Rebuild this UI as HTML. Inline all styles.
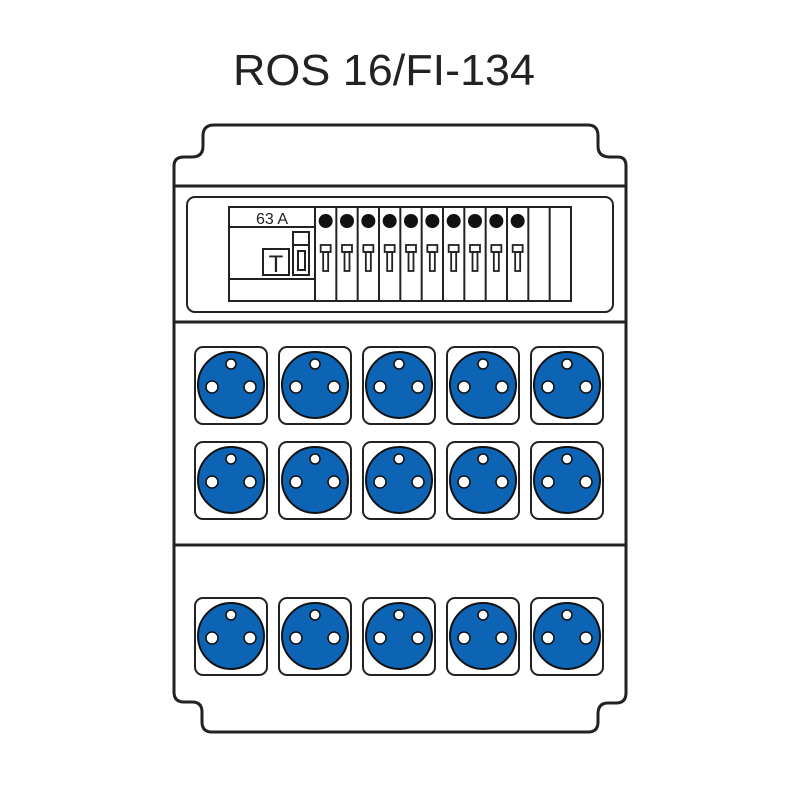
<!DOCTYPE html>
<html><head><meta charset="utf-8"><style>
html,body{margin:0;padding:0;background:#fff;}
svg{display:block;}
</style></head><body>
<svg id="s" width="800" height="800" viewBox="0 0 800 800" xmlns="http://www.w3.org/2000/svg">
<rect width="800" height="800" fill="#fff"/>
<text x="384" y="85" font-family="Liberation Sans, sans-serif" font-size="44" text-anchor="middle" fill="#222" textLength="302" lengthAdjust="spacingAndGlyphs">ROS 16/FI-134</text>
<path d="M214,125 L588,125 Q598,125 598,136 L598,146 Q598,157 610,157 L618,157 Q626,157 626,166 L626,693 Q626,703 616,703 L608,703 Q598,703 598,714 L598,722 Q598,732 588,732 L212,732 Q202,732 202,722 L202,712 Q202,702 192,702 L184,702 Q174,702 174,692 L174,166 Q174,157 184,157 L192,157 Q203,157 203,146 L203,136 Q203,125 214,125 Z" fill="none" stroke="#222" stroke-width="3"/>
<line x1="174" y1="186" x2="626" y2="186" stroke="#222" stroke-width="3"/>
<line x1="174" y1="322" x2="626" y2="322" stroke="#222" stroke-width="3"/>
<line x1="174" y1="545" x2="626" y2="545" stroke="#222" stroke-width="3"/>
<rect x="187" y="197" width="426" height="115" rx="8" fill="none" stroke="#222" stroke-width="2"/>
<g stroke="#222" fill="none" stroke-width="2">
<rect x="229" y="207" width="342" height="94"/>
<line x1="229" y1="227" x2="315" y2="227"/>
<line x1="229" y1="279" x2="315" y2="279"/>
<rect x="263" y="249" width="26" height="26"/>
<rect x="293" y="232" width="16" height="43"/>
<line x1="293" y1="245" x2="309" y2="245"/>
<rect x="298" y="251" width="7" height="19"/>
</g>
<text x="272" y="224" font-family="Liberation Sans, sans-serif" font-size="16" text-anchor="middle" fill="#222">63 A</text>
<text x="276" y="272" font-family="Liberation Sans, sans-serif" font-size="24" text-anchor="middle" fill="#222">T</text>
<g id="mods"></g>
<g id="socks"></g>
</svg>
<script>
var NS="http://www.w3.org/2000/svg";
function el(p,t,a){var e=document.createElementNS(NS,t);for(var k in a)e.setAttribute(k,a[k]);p.appendChild(e);return e;}
var m=document.getElementById("mods");
var w=(571-315)/12;
for(var i=0;i<12;i++){
 var x=315+i*w;
 el(m,"line",{x1:x,y1:207,x2:x,y2:301,stroke:"#222","stroke-width":2});
 if(i<10){
  var cx=x+w/2;
  el(m,"circle",{cx:cx,cy:221,r:7,fill:"#111"});
  el(m,"rect",{x:cx-5,y:245,width:10,height:7,fill:"none",stroke:"#222","stroke-width":1.8});
  el(m,"rect",{x:cx-2.5,y:252,width:5,height:19,fill:"none",stroke:"#222","stroke-width":1.8});
 }
}
var s=document.getElementById("socks");
var cols=[231,315,399,483,567],rows=[385,480,636];
rows.forEach(function(cy){cols.forEach(function(cx){
 el(s,"rect",{x:cx-36,y:cy-38,width:72,height:77,rx:8,fill:"#fff",stroke:"#222","stroke-width":2});
 el(s,"circle",{cx:cx,cy:cy,r:33,fill:"#0e64b4",stroke:"#111","stroke-width":2});
 el(s,"circle",{cx:cx,cy:cy-21,r:5,fill:"#fff",stroke:"#111","stroke-width":1.5});
 el(s,"circle",{cx:cx-19,cy:cy+2,r:6,fill:"#fff",stroke:"#111","stroke-width":1.5});
 el(s,"circle",{cx:cx+19,cy:cy+2,r:6,fill:"#fff",stroke:"#111","stroke-width":1.5});
});});
</script>
</body></html>
